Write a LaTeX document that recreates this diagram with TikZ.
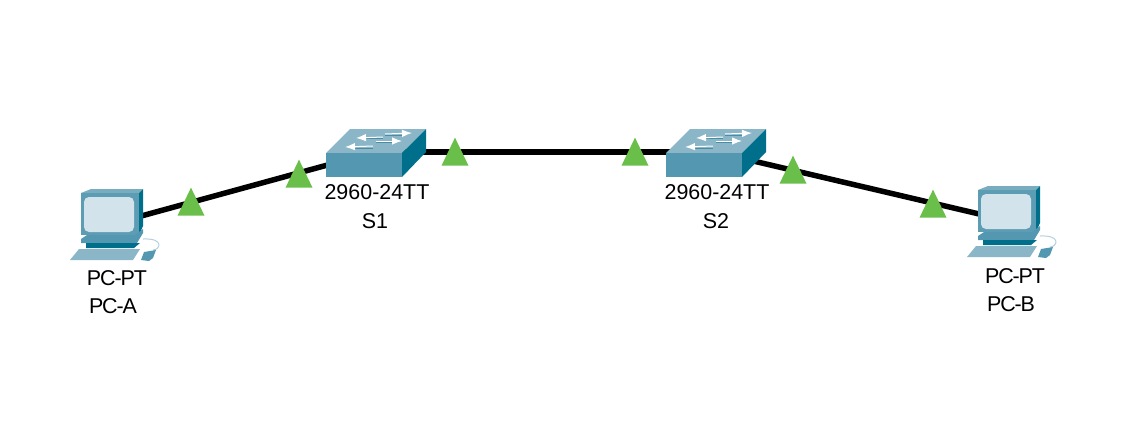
\documentclass[tikz,border=0pt]{standalone}
\usepackage{fontspec}
\setmainfont{Liberation Sans}
\usetikzlibrary{shapes.geometric,arrows.meta}
\definecolor{swfront}{HTML}{5397B1}
\definecolor{swtop}{HTML}{8AB6C8}
\definecolor{swside}{HTML}{006F8C}
\definecolor{swshade}{HTML}{4A8CA3}
\definecolor{pcbody}{HTML}{5C9DB4}
\definecolor{pctop}{HTML}{78ADC0}
\definecolor{pcscreen}{HTML}{D3E3EC}
\definecolor{pccable}{HTML}{B5D0DC}
\definecolor{linkgreen}{HTML}{6ABF4B}
\tikzset{
  device/.style={inner sep=0pt, minimum size=0pt},
  devlabel/.style={inner sep=0pt, font=\fontsize{12.2pt}{14pt}\selectfont},
  pclabel/.style={devlabel, font=\fontsize{12.2pt}{14pt}\selectfont\addfontfeature{LetterSpace=-5}},
  link/.style={line width=0.11cm, black},
  porttri/.style={isosceles triangle, isosceles triangle stretches, shape border rotate=90,
    fill=linkgreen, inner sep=0pt, minimum width=0.54cm, minimum height=0.56cm, anchor=lower side},
  swarrow/.style={white, line width=0.02cm, -{Latex[length=0.2cm,width=0.15cm]}},
  pics/pcicon/.style={code={
    \fill[pctop] (-31,-31) -- (-21,-35) -- (31,-35) -- (27,-31) -- cycle;
    \fill[swside] (27,-31) -- (31,-35) -- (31,2) -- (27,11) -- cycle;
    \fill[pcbody] (-31,-31) rectangle (27,11);
    \fill[pcscreen, rounded corners=0.1cm] (-28,-27) rectangle (22,8);
    \fill[swfront] (-25,11) -- (23,11) -- (31,5) -- (31,9) -- (25,19) -- (-31,19) -- (-31,15) -- cycle;
    \fill[swside] (-26,19) -- (28,19) -- (22,24) -- (-26,24) -- cycle;
    \draw[pccable, line width=0.02cm] (31,15) .. controls (53,14) and (48,26) .. (41,26);
    \fill[swtop] (-42,36) -- (-33,25) -- (28,25) -- (21,36) -- cycle;
    \fill[swfront] (29,36) -- (32,28) -- (44,26) -- (41,34) -- (37,37) -- cycle;
  }},
  pics/switchicon/.style={code={
    \fill[swtop] (-49,1) -- (-25,-23) -- (51,-23) -- (27,1) -- cycle;
    \fill[swside] (27,1) -- (51,-23) -- (51,0) -- (27,25) -- cycle;
    \fill[swfront] (-49,1) rectangle (27,25);
    \draw[swshade, line width=0.02cm] (-10,-14) -- (8,-14);
    \draw[swshade, line width=0.02cm] (10,-17) -- (30,-17);
    \draw[swshade, line width=0.02cm] (-20,-4) -- (-2,-4);
    \draw[swshade, line width=0.02cm] (1,-10) -- (20,-10);
    \draw[swarrow] (8,-15) -- (-19,-14);
    \draw[swarrow] (10,-18) -- (37,-19);
    \draw[swarrow] (-2,-6) -- (-30,-5);
    \draw[swarrow] (1,-11) -- (27,-11);
  }}
}
\begin{document}
\begin{tikzpicture}[x=0.02cm, y=-0.02cm]
  \useasboundingbox (0,0) rectangle (1145,440);
  % ---- Devices ----
  \node[device] (pca) at (112,224) {};
  \node[device] (s1) at (375,152) {};
  \node[device] (s2) at (715,152) {};
  \node[device] (pcb) at (1009,221) {};
  % ---- Links ----
  \draw[link] (pca) -- (s1);
  \draw[link] (s1) -- (s2);
  \draw[link] (s2) -- (pcb);
  % ---- Icons ----
  \pic at (pca) {pcicon};
  \pic at (s1) {switchicon};
  \pic at (s2) {switchicon};
  \pic at (pcb) {pcicon};
  % ---- Link lights ----
  \node[porttri] (t1) at (191,216) {};
  \node[porttri] (t2) at (299,188) {};
  \node[porttri] (t3) at (455,166) {};
  \node[porttri] (t4) at (635,166) {};
  \node[porttri] (t5) at (793,184) {};
  \node[porttri] (t6) at (933,218) {};
  % ---- Labels ----
  \node[pclabel] (pcamodel) at (117,278) {PC-PT};
  \node[pclabel] (pcaname) at (113,306) {PC-A};
  \node[devlabel] (s1model) at (377,192) {2960-24TT};
  \node[devlabel] (s1name) at (375,221) {S1};
  \node[devlabel] (s2model) at (717,192) {2960-24TT};
  \node[devlabel] (s2name) at (716,221) {S2};
  \node[pclabel] (pcbmodel) at (1015,276) {PC-PT};
  \node[pclabel] (pcbname) at (1011,304) {PC-B};
\end{tikzpicture}
\end{document}
